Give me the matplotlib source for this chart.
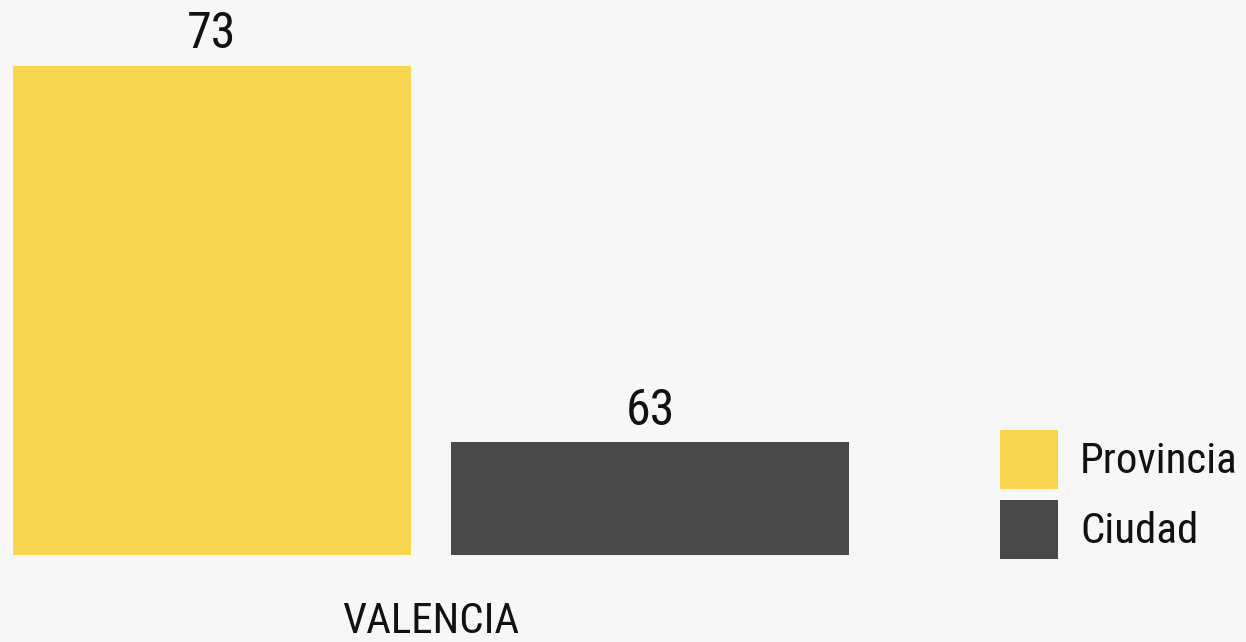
import os
import matplotlib
matplotlib.use("Agg")
import matplotlib.pyplot as plt
from matplotlib import font_manager
from matplotlib.font_manager import FontProperties
from matplotlib.patches import Patch

# Data
group = "VALENCIA"
series = ["Provincia", "Ciudad"]
values = [73, 63]
colors = ["#F9D64F", "#494949"]

BG = "#F7F7F7"

# original uses a condensed face (Oswald-like), look for something narrow
prefs = ["notosans-extracondensedmedium", "notosans-extracondensed.", "notosans-condensedmedium",
         "notosans-condensed.", "robotocondensed-regular", "dejavusanscondensed.",
         "liberationsansnarrow-regular"]
files = [f.fname for f in font_manager.fontManager.ttflist]
fname = None
for p in prefs:
    hits = [f for f in files if os.path.basename(f).lower().startswith(p)]
    if hits:
        fname = hits[0]
        break

def fp(size):
    if fname:
        return FontProperties(fname=fname, size=size)
    return FontProperties(family="DejaVu Sans", size=size * 0.8)

W, H = 1246, 642
fig = plt.figure(figsize=(W / 100, H / 100), dpi=100, facecolor=BG)
ax = fig.add_axes([13 / W, (H - 555) / H, (849 - 13) / W, 555 / H])
ax.set_facecolor(BG)

x = list(range(len(values)))
bar_w = 398 / 438
bars = ax.bar(x, [v - 60 for v in values], bottom=60, width=bar_w, color=colors)
ax.set_xlim(-bar_w / 2, 1 + bar_w / 2)
ax.set_ylim(60, 74.75)

for b, v in zip(bars, values):
    ax.annotate(str(v), (b.get_x() + b.get_width() / 2, b.get_y() + b.get_height()),
                xytext=(0, 12.5), textcoords="offset points",
                ha="center", va="baseline", fontproperties=fp(36), color="#111111")

ax.axis("off")

fig.text(431 / W, 1 - 633 / H, group, ha="center", va="baseline",
         fontproperties=fp(31), color="#111111")

lp = fp(31)
px = lp.get_size_in_points() * 100 / 72
hh = (59 / px - 0.245) / 0.65   # legend shrinks the patch, undo that
handles = [Patch(facecolor=c, edgecolor="none", label=s) for c, s in zip(colors, series)]
fig.legend(handles=handles, loc="upper left", bbox_to_anchor=(1000 / W, 1 - 430 / H),
           frameon=False, prop=lp, borderpad=0, borderaxespad=0,
           handlelength=58 / px, handleheight=hh,
           labelspacing=11 / px, handletextpad=22 / px, labelcolor="#111111")

fig.savefig("out.png", dpi=100, facecolor=BG)
